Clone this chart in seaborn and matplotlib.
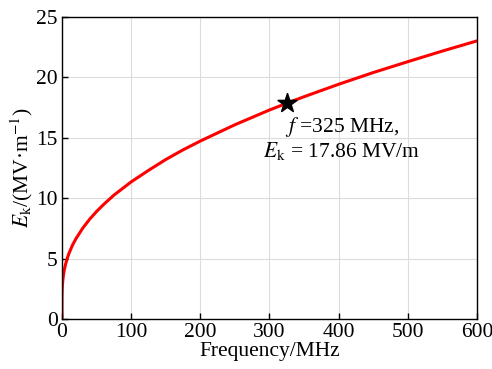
import matplotlib
matplotlib.use("Agg")
import matplotlib.pyplot as plt
import seaborn as sns
import pandas as pd

# Values
freq_mhz = [0, 0.02, 0.1, 0.5, 1, 2, 3, 5, 7.5, 10, 15, 20, 30, 40, 50, 60, 75,
            100, 125, 150, 175, 200, 250, 300, 325, 350, 400, 450, 500, 550, 600]
ek_mv_m = [0, 1.6, 2.05, 2.7, 3.1, 3.6, 3.96, 4.5, 5.0, 5.42, 6.09, 6.63, 7.52, 8.26, 8.9,
           9.47, 10.25, 11.35, 12.3, 13.2, 14.0, 14.73, 16.08, 17.3, 17.86, 18.4, 19.43,
           20.4, 21.3, 22.18, 23.02]
star_f = [325]
star_e = [17.86]
x_ticks = [0, 100, 200, 300, 400, 500, 600]
y_ticks = [0, 5, 10, 15, 20, 25]

sns.set_style("ticks")
plt.rcParams["font.family"] = ["Liberation Serif", "DejaVu Serif"]
plt.rcParams["mathtext.fontset"] = "stix"
plt.rcParams["text.color"] = "black"
plt.rcParams["axes.labelcolor"] = "black"
plt.rcParams["xtick.color"] = "black"
plt.rcParams["ytick.color"] = "black"

df = pd.DataFrame({"f": freq_mhz, "E": ek_mv_m})

fig = plt.figure(figsize=(4.92, 3.69), dpi=100)
ax = fig.add_axes([0.126, 0.1355, 0.8435, 0.8185])

ax.grid(True, color="#dcdcdc", linewidth=0.8)
ax.set_axisbelow(True)
sns.lineplot(data=df, x="f", y="E", ax=ax, color="#ff0000", linewidth=2.2, sort=True)
sns.scatterplot(x=star_f, y=star_e, ax=ax, marker="*", s=200, color="black",
                edgecolor="black", zorder=5)

ax.text(405, 16.85, "$f$ =325 MHz,\n$E_\\mathrm{k}$ = 17.86 MV/m", ha="center", va="top",
        fontsize=15.5, linespacing=1.05, color="black")

ax.set_xlim(0, 600)
ax.set_ylim(0, 25)
ax.set_xticks(x_ticks)
ax.set_yticks(y_ticks)
ax.tick_params(direction="in", length=4, width=1, labelsize=15.5, pad=3,
               top=False, right=False, colors="black")
for s in ax.spines.values():
    s.set_visible(True)
    s.set_color("black")
    s.set_linewidth(1.0)
ax.set_xlabel("Frequency/MHz", fontsize=15.5, labelpad=0)
ax.set_ylabel("$E_\\mathrm{k}$/(MV·m$^{-1}$)", fontsize=15.5, labelpad=1)

fig.savefig("out.png", dpi=100)
